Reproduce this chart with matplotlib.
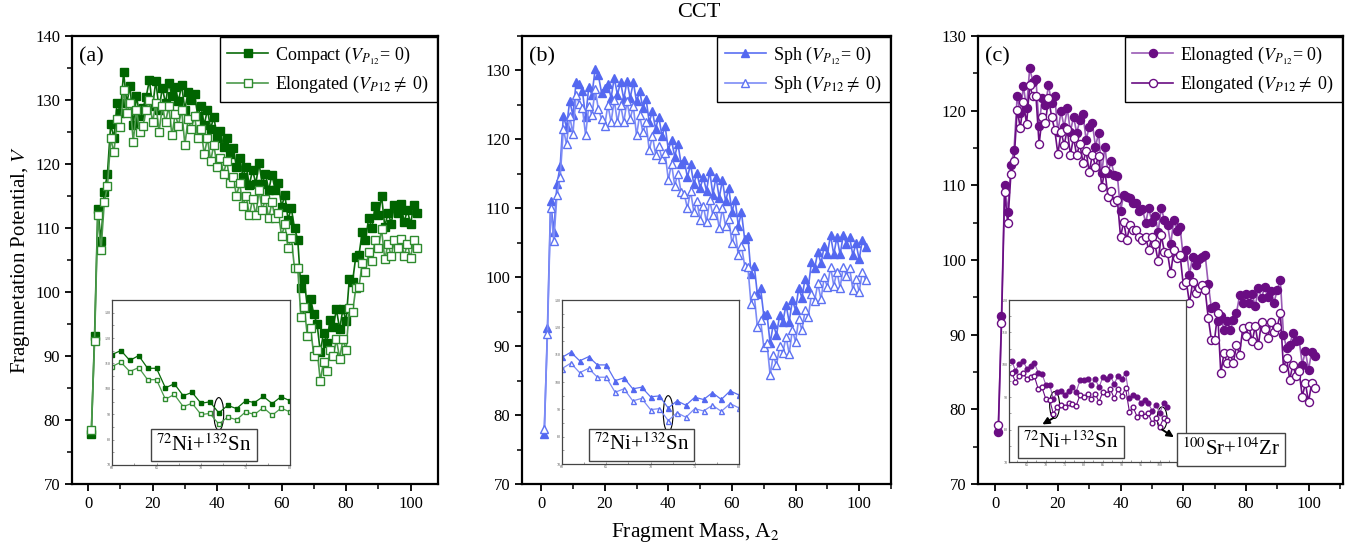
import numpy as np
import matplotlib
matplotlib.use('Agg')
import matplotlib.pyplot as plt
from matplotlib.patches import Ellipse
from matplotlib.ticker import MultipleLocator

plt.rcParams['font.family'] = ['Liberation Serif', 'DejaVu Serif']
plt.rcParams['mathtext.fontset'] = 'stix'

# fragment mass A2
mass = np.arange(1, 103)

compact_a = [77.8, 93.2, 113.0, 108.0, 115.7, 118.5, 126.2, 124.1, 129.6, 128.0,
             134.3, 129.5, 132.2, 126.1, 130.6, 127.5, 128.7, 130.5, 133.1, 129.0,
             133.0, 128.5, 131.9, 129.5, 132.7, 130.6, 132.1, 129.8, 132.3, 128.5,
             131.3, 130.0, 130.9, 127.5, 129.1, 126.1, 128.5, 125.5, 127.4, 124.0,
             125.2, 122.6, 124.0, 121.5, 122.5, 119.5, 121.0, 118.0, 119.6, 116.7,
             119.1, 116.9, 120.1, 116.9, 118.5, 115.9, 118.3, 116.0, 117.0, 113.3,
             115.2, 111.3, 113.1, 110.0, 108.2, 100.6, 102.1, 97.5, 98.9, 96.5,
             95.0, 90.6, 93.6, 92.1, 95.6, 94.6, 97.3, 94.2, 97.3, 95.5,
             102.1, 101.6, 105.5, 105.8, 109.4, 108.1, 111.5, 110.0, 113.4, 112.0,
             115.0, 110.2, 112.4, 110.7, 113.6, 112.3, 113.75, 110.9, 112.8, 110.6,
             113.6, 112.3]
elong_a = [78.5, 92.3, 112.0, 106.5, 114.0, 116.5, 124.0, 121.8, 127.0, 125.8,
           131.5, 128.0, 129.5, 123.5, 128.5, 125.0, 126.0, 128.5, 130.0, 126.5,
           129.5, 125.0, 129.0, 126.5, 129.0, 124.5, 127.8, 126.0, 128.5, 123.0,
           127.0, 125.5, 127.5, 124.0, 125.5, 121.5, 124.0, 120.5, 123.0, 119.5,
           121.0, 118.5, 120.5, 117.0, 118.0, 115.0, 117.0, 113.5, 115.0, 112.0,
           114.5, 112.0, 115.9, 112.8, 114.6, 111.5, 114.0, 111.5, 112.3, 108.75,
           110.6, 106.8, 108.5, 103.7, 103.7, 96.1, 97.7, 93.1, 94.3, 90.0,
           91.0, 86.1, 89.1, 87.6, 91.0, 90.0, 92.6, 89.6, 92.6, 90.9,
           97.5, 96.8, 100.6, 100.8, 104.5, 103.1, 106.3, 104.8, 108.2, 106.9,
           109.8, 105.1, 107.5, 105.6, 108.2, 106.9, 108.3, 105.6, 107.5, 105.3,
           108.2, 106.9]

sph_b = [77.2, 92.6, 111.0, 106.6, 113.5, 116.1, 123.4, 121.8, 125.6, 123.5,
         128.3, 128.0, 127.0, 123.2, 127.6, 126.5, 130.2, 129.3, 126.8, 127.5,
         128.1, 126.0, 128.9, 126.5, 128.3, 125.8, 128.5, 126.0, 128.3, 125.5,
         127.0, 124.5, 125.9, 122.5, 124.1, 121.5, 123.3, 120.5, 121.9, 118.5,
         119.9, 117.5, 119.4, 116.5, 117.0, 114.5, 116.4, 113.5, 115.1, 113.0,
         114.5, 112.5, 115.4, 112.0, 114.5, 111.5, 114.1, 111.0, 112.9, 109.5,
         111.2, 107.5, 109.4, 105.5, 106.0, 100.5, 101.7, 97.5, 98.4, 94.5,
         94.7, 90.4, 93.2, 91.6, 94.5, 93.5, 96.0, 93.5, 96.7, 95.2,
         98.5, 97.0, 99.8, 98.5, 102.2, 101.3, 103.7, 102.0, 104.5, 103.4,
         106.1, 103.3, 105.8, 103.3, 106.1, 104.8, 105.8, 103.2, 104.9, 102.6,
         105.4, 104.4]
sph_b_p12 = [78.0, 91.7, 110.0, 105.3, 112.0, 114.5, 121.5, 119.3, 123.4, 120.8,
             126.4, 125.2, 124.5, 120.6, 124.9, 123.5, 127.3, 124.4, 123.0, 122.0,
             125.0, 122.5, 125.7, 122.5, 125.0, 122.5, 125.5, 123.0, 124.8, 120.6,
             123.5, 121.0, 122.5, 118.4, 120.5, 117.8, 119.0, 117.2, 118.0, 114.1,
             116.5, 113.3, 115.0, 112.4, 112.1, 110.0, 112.5, 109.5, 111.0, 108.3,
             110.3, 108.0, 111.2, 109.0, 110.0, 107.1, 110.0, 107.4, 108.5, 104.9,
             106.8, 103.2, 104.5, 101.7, 101.5, 96.1, 97.4, 92.8, 93.8, 89.9,
             90.5, 85.8, 88.7, 87.2, 90.0, 89.0, 91.4, 88.9, 92.4, 90.6,
             94.0, 92.3, 95.2, 94.2, 97.6, 96.6, 99.1, 96.8, 100.0, 98.6,
             101.5, 98.8, 100.8, 98.5, 101.5, 100.2, 101.3, 98.2, 99.8, 97.9,
             100.8, 99.6]

elon_c = [77.0, 92.5, 110.0, 106.4, 112.7, 114.7, 121.9, 119.7, 123.3, 120.3,
          125.7, 123.9, 124.2, 117.9, 121.7, 120.7, 123.4, 121.0, 121.9, 117.2,
          119.9, 117.8, 120.3, 117.2, 119.2, 117.0, 118.7, 119.6, 116.1, 117.8,
          118.3, 115.2, 117.0, 111.6, 115.2, 111.6, 113.2, 111.4, 111.2, 106.6,
          108.7, 108.5, 108.3, 107.7, 107.7, 106.5, 106.8, 105.0, 106.9, 105.15,
          105.9, 103.8, 107.0, 105.3, 104.7, 102.1, 105.3, 103.9, 104.4, 100.45,
          101.35, 98.0, 100.45, 99.35, 100.1, 100.45, 100.7, 96.75, 93.55, 93.8,
          91.8, 92.5, 90.6, 91.8, 90.6, 91.9, 92.9, 95.3, 94.2, 95.4,
          94.2, 95.4, 93.8, 96.2, 94.9, 96.4, 95.0, 95.9, 94.3, 96.0,
          97.3, 90.0, 88.2, 88.6, 90.2, 89.1, 89.3, 86.0, 87.8, 85.3,
          87.7, 87.1]
elon_c_p12 = [77.9, 91.5, 109.1, 104.9, 111.5, 113.3, 120.1, 117.7, 121.2, 118.2,
              123.4, 121.9, 122.0, 115.5, 119.2, 118.3, 121.7, 119.2, 117.4, 114.2,
              117.2, 115.4, 117.5, 114.1, 116.4, 114.0, 115.6, 113.0, 114.6, 111.8,
              114.1, 112.5, 113.9, 109.8, 112.0, 108.4, 109.2, 107.8, 108.0, 103.1,
              105.1, 102.7, 104.7, 104.0, 104.0, 103.1, 102.7, 103.1, 101.35, 103.1,
              102.1, 99.8, 103.3, 101.1, 100.9, 98.2, 101.35, 100.3, 100.7, 96.7,
              97.1, 94.2, 97.0, 95.6, 96.2, 96.7, 96.0, 92.2, 89.3, 89.3,
              92.9, 84.8, 87.5, 86.2, 87.5, 86.2, 88.6, 87.3, 90.9, 89.8,
              91.2, 89.1, 91.1, 88.6, 91.75, 90.8, 89.5, 91.75, 90.4, 91.0,
              92.9, 85.5, 86.9, 83.95, 86.0, 84.4, 85.1, 81.7, 83.5, 81.0,
              83.5, 82.9]

# inset data
inset_ab_mass = np.arange(60, 81)
inset_a_compact = [113.5, 115.1, 111.2, 113.1, 108.1, 108.1, 100.4, 102.0, 97.3, 98.6,
                   94.3, 94.9, 90.5, 93.5, 92.2, 95.3, 94.6, 97.0, 94.2, 96.9, 95.3]
inset_a_elong = [108.8, 110.5, 106.8, 108.4, 103.6, 103.6, 95.9, 97.8, 93.0, 94.3,
                 89.9, 90.3, 86.1, 88.9, 87.8, 90.9, 89.9, 92.6, 89.6, 92.4, 90.9]
inset_b_sph = [109.0, 110.9, 107.75, 109.25, 106.25, 106.25, 100.5, 101.5, 97.5, 98.1,
               94.6, 94.9, 90.5, 93.1, 91.5, 94.4, 93.6, 96.1, 93.6, 96.75, 95.25]
inset_b_sph_p12 = [104.9, 106.9, 103.4, 105.0, 101.75, 101.75, 96.25, 97.5, 93.1, 94.0,
                   89.9, 90.25, 85.9, 88.75, 87.1, 90.25, 89.4, 91.5, 89.25, 92.1, 90.5]
inset_c_mass = np.arange(61, 103)
inset_c_elon = [101.3, 98.2, 100.3, 101.3, 98.8, 99.5, 100.5, 97.6, 97.2, 93.8,
                93.8, 89.4, 91.7, 92.0, 90.7, 91.9, 93.1, 91.7, 95.2, 95.2,
                95.6, 93.8, 95.6, 93.0, 96.2, 95.6, 96.6, 94.1, 96.6, 95.6,
                97.4, 89.7, 90.7, 90.2, 88.3, 89.2, 88.1, 85.8, 87.6, 85.2,
                88.1, 87.1]
inset_c_elon_p12 = [97.6, 94.8, 96.6, 97.4, 95.6, 96.1, 96.4, 92.5, 93.0, 89.4,
                    89.2, 84.8, 87.1, 87.6, 86.9, 88.1, 87.9, 87.4, 90.7, 90.0,
                    91.0, 89.4, 91.0, 88.6, 91.7, 91.0, 92.5, 89.6, 92.5, 90.4,
                    92.8, 85.5, 86.9, 84.0, 85.0, 84.2, 85.0, 81.9, 83.5, 80.9,
                    83.5, 82.9]

W, H = 1363, 552
fig = plt.figure(figsize=(W / 100, H / 100), dpi=100)


def px_box(x0, y0, x1, y1):
    # pixel box (top-left origin) -> figure fraction rect
    return [x0 / W, (H - y1) / H, (x1 - x0) / W, (y1 - y0) / H]


def style_main(ax, xlim, ylim, yticks):
    ax.set_xlim(*xlim)
    ax.set_ylim(*ylim)
    ax.set_yticks(yticks)
    ax.set_xticks([0, 20, 40, 60, 80, 100])
    ax.xaxis.set_minor_locator(MultipleLocator(10))
    ax.yaxis.set_minor_locator(MultipleLocator(5))
    ax.tick_params(which='major', direction='out', length=5, width=1.3,
                   labelsize=12, top=False, right=False)
    ax.tick_params(which='minor', direction='out', length=3.5, width=1.1,
                   top=False, right=False)
    for s in ax.spines.values():
        s.set_linewidth(1.6)


def add_legend(ax):
    ax.legend(loc='upper right', fontsize=13, fancybox=False, edgecolor='black',
              framealpha=1, borderaxespad=0.08, handlelength=2.3,
              labelspacing=0.45, borderpad=0.4, handletextpad=0.4)


def style_inset(ax, xlim, ylim, xstep, yticks):
    ax.set_xlim(*xlim)
    ax.set_ylim(*ylim)
    ax.set_yticks(yticks)
    ax.xaxis.set_major_locator(MultipleLocator(xstep))
    ax.xaxis.set_minor_locator(MultipleLocator(xstep / 2))
    ax.yaxis.set_minor_locator(MultipleLocator(5))
    ax.tick_params(which='both', direction='in', labelsize=3, length=1.5,
                   width=0.4, pad=1, colors='#555555')
    for s in ax.spines.values():
        s.set_linewidth(0.9)
        s.set_edgecolor('#444444')


box_kw = dict(boxstyle='square,pad=0.25', fc='white', ec='#444444', lw=1)

# ---------------- (a) ----------------
ax_a = fig.add_axes(px_box(72, 36, 438, 484))
ax_a.plot(mass, compact_a, '-s', color='#0b6b0b', mfc='#006400', mec='#006400',
          ms=5.5, lw=1.2, label=r'Compact ($V_{P_{12}}$= 0)')
ax_a.plot(mass, elong_a, '-s', color='#4c9a4c', mfc='white', mec='#2e8b2e',
          ms=5.5, lw=1.2, label=r'Elongated ($V_{P\mathrm{12}}$$\neq$ 0)')
style_main(ax_a, (-5, 108.5), (70, 140), np.arange(70, 141, 10))
ax_a.text(0.02, 0.975, '(a)', transform=ax_a.transAxes, fontsize=16, va='top')
add_legend(ax_a)
ax_a.set_ylabel('Fragmnetation Potential, $V$', fontsize=15, labelpad=2)

ins_a = fig.add_axes(px_box(112, 300, 290, 465))
ins_a.plot(inset_ab_mass, inset_a_compact, '-s', color='#0b6b0b', mfc='#006400',
           mec='#006400', ms=3.2, lw=0.9)
ins_a.plot(inset_ab_mass, inset_a_elong, '-s', color='#4c9a4c', mfc='white',
           mec='#2e8b2e', ms=3.2, lw=0.9)
style_inset(ins_a, (60, 80), (70, 135), 5, np.arange(70, 131, 10))
ins_a.add_patch(Ellipse((72, 90.1), 1.1, 12.9, fill=False, ec='black', lw=0.8))
ins_a.annotate(r'$^{72}$Ni+$^{132}$Sn', xy=(72, 83.6), xycoords='data',
               xytext=(0.36, 0.087), textcoords=ax_a.transAxes,
               fontsize=15, ha='center', va='center', bbox=box_kw,
               arrowprops=dict(arrowstyle='<|-', color='black', lw=0.8,
                               mutation_scale=6, relpos=(0.4, 1.0), shrinkB=0))

# ---------------- (b) ----------------
ax_b = fig.add_axes(px_box(522, 36, 891, 484))
ax_b.plot(mass, sph_b, '-^', color='#5a6ff2', mfc='#5468f0', mec='#5468f0',
          ms=6, lw=1.2, label=r'Sph ($V_{P_{12}}$= 0)')
ax_b.plot(mass, sph_b_p12, '-^', color='#7d8cf6', mfc='white', mec='#5e72f2',
          ms=6, lw=1.2, label=r'Sph ($V_{P\mathrm{12}}$$\neq$ 0)')
style_main(ax_b, (-6, 110), (70, 135), np.arange(70, 131, 10))
ax_b.text(0.02, 0.975, '(b)', transform=ax_b.transAxes, fontsize=16, va='top')
add_legend(ax_b)

ins_b = fig.add_axes(px_box(562, 300, 739, 464))
ins_b.plot(inset_ab_mass, inset_b_sph, '-^', color='#5a6ff2', mfc='#5468f0',
           mec='#5468f0', ms=3.6, lw=0.9)
ins_b.plot(inset_ab_mass, inset_b_sph_p12, '-^', color='#7d8cf6', mfc='white',
           mec='#5e72f2', ms=3.6, lw=0.9)
style_inset(ins_b, (60, 80), (70, 130), 5, np.arange(70, 131, 10))
ins_b.add_patch(Ellipse((72, 88.4), 1.1, 13.2, fill=False, ec='black', lw=0.8))
ins_b.annotate(r'$^{72}$Ni+$^{132}$Sn', xy=(71.6, 82.5), xycoords='data',
               xytext=(0.324, 0.088), textcoords=ax_b.transAxes,
               fontsize=15, ha='center', va='center', bbox=box_kw,
               arrowprops=dict(arrowstyle='-', color='black', lw=0.8,
                               relpos=(0.52, 1.0), shrinkB=0))

# ---------------- (c) ----------------
ax_c = fig.add_axes(px_box(978, 36, 1343, 484))
ax_c.plot(mass, elon_c, '-o', color='#9a5bb5', mfc='#6a0d83', mec='#6a0d83',
          ms=5.8, lw=1.2, label=r'Elonagted ($V_{P_{12}}$= 0)')
ax_c.plot(mass, elon_c_p12, '-o', color='#6a0d83', mfc='white', mec='#6a0d83',
          ms=5.8, lw=1.2, label=r'Elongated ($V_{P\mathrm{12}}$$\neq$ 0)')
style_main(ax_c, (-5.5, 111), (70, 130), np.arange(70, 131, 10))
ax_c.text(0.02, 0.975, '(c)', transform=ax_c.transAxes, fontsize=16, va='top')
add_legend(ax_c)

ins_c = fig.add_axes(px_box(1009, 300, 1186, 462))
ins_c.plot(inset_c_mass, inset_c_elon, '-o', color='#9a5bb5', mfc='#6a0d83',
           mec='#6a0d83', ms=3.4, lw=0.8)
ins_c.plot(inset_c_mass, inset_c_elon_p12, '-o', color='#6a0d83', mfc='white',
           mec='#6a0d83', ms=3.4, lw=0.8)
style_inset(ins_c, (60.3, 106.9), (70, 120), 5, np.arange(70, 121, 10))
ins_c.add_patch(Ellipse((72.3, 87.6), 2.6, 8.3, fill=False, ec='black', lw=0.8))
ins_c.add_patch(Ellipse((100.6, 83.5), 2.6, 7.0, fill=False, ec='black', lw=0.8))
ins_c.annotate(r'$^{72}$Ni+$^{132}$Sn', xy=(72.0, 83.6), xycoords='data',
               xytext=(0.255, 0.093), textcoords=ax_c.transAxes,
               fontsize=15, ha='center', va='center', bbox=box_kw,
               arrowprops=dict(arrowstyle='<|-', color='black', lw=1.4,
                               mutation_scale=10, relpos=(0.07, 1.0), shrinkB=0))
ins_c.annotate(r'$^{100}$Sr+$^{104}$Zr', xy=(100.6, 80.0), xycoords='data',
               xytext=(0.693, 0.077), textcoords=ax_c.transAxes,
               fontsize=15, ha='center', va='center', bbox=box_kw,
               annotation_clip=False,
               arrowprops=dict(arrowstyle='<|-', color='black', lw=1.4,
                               mutation_scale=10, relpos=(0.0, 0.83), shrinkB=0))

fig.text(0.513, 0.995, 'CCT', ha='center', va='top', fontsize=16)
fig.text(0.51, 0.015, 'Fragment Mass, A$_2$', ha='center', va='bottom', fontsize=15.5)

fig.savefig('out.png', dpi=100)
